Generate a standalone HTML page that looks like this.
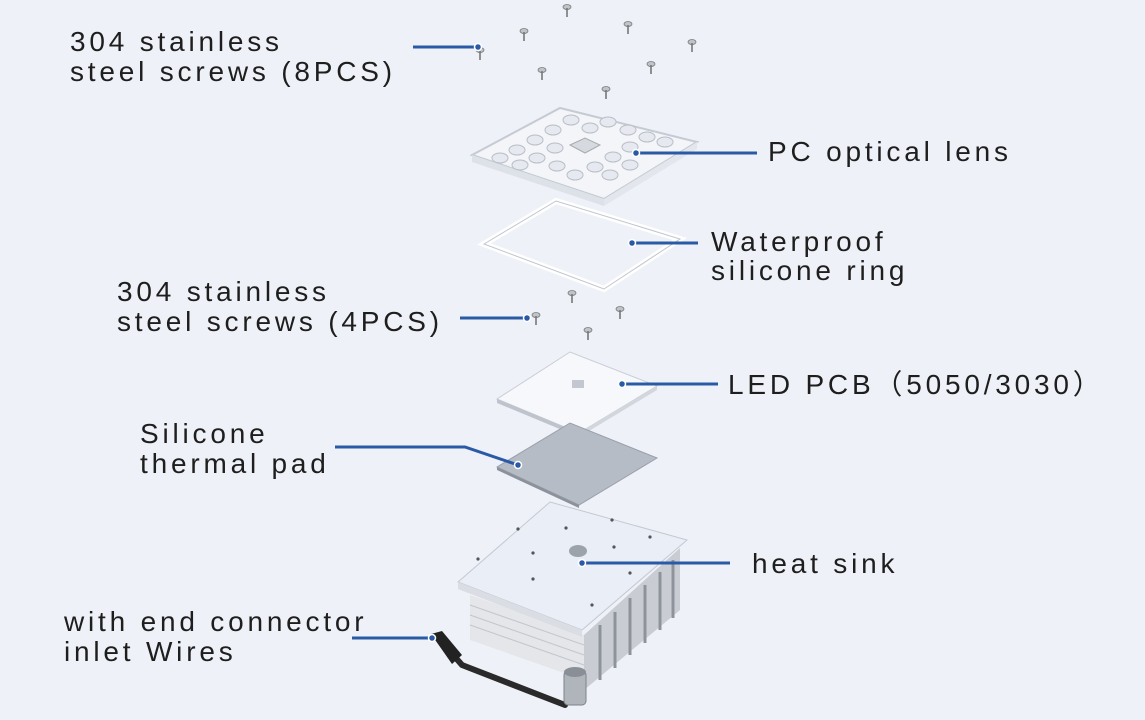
<!DOCTYPE html>
<html><head><style>
body{margin:0;background:#eef1f7;}
svg{display:block}
text{font-family:"Liberation Sans","Noto Sans CJK SC",sans-serif;font-size:28px;fill:#1e1e1e;letter-spacing:3.8px}
</style></head><body>
<svg width="1145" height="720" viewBox="0 0 1145 720">
<rect width="1145" height="720" fill="#eef1f7"/>
<defs>
<g id="scr"><ellipse cx="0" cy="0" rx="4" ry="2.5" fill="#bfc4cb" stroke="#777" stroke-width="0.8"/><line x1="0" y1="1" x2="0" y2="10" stroke="#777" stroke-width="1.6"/></g>
</defs>
<use href="#scr" x="567" y="7"/><use href="#scr" x="524" y="31"/><use href="#scr" x="628" y="24"/><use href="#scr" x="692" y="42"/><use href="#scr" x="480" y="50"/><use href="#scr" x="542" y="70"/><use href="#scr" x="651" y="64"/><use href="#scr" x="606" y="89"/>
<!-- lens -->
<polygon points="472,155 560,108 697,142 604,199" fill="#f3f5f9" stroke="#c5cad3" stroke-width="2"/>
<polygon points="472,155 604,199 604,206 472,162" fill="#dde1e8"/>
<polygon points="604,199 697,142 697,149 604,206" fill="#e3e6ec"/>
<g fill="#e6e9ef" stroke="#b9bec8" stroke-width="1">
<ellipse cx="517" cy="150" rx="8" ry="5"/><ellipse cx="535" cy="140" rx="8" ry="5"/><ellipse cx="553" cy="130" rx="8" ry="5"/><ellipse cx="571" cy="120" rx="8" ry="5"/>
<ellipse cx="537" cy="158" rx="8" ry="5"/><ellipse cx="555" cy="148" rx="8" ry="5"/><ellipse cx="590" cy="128" rx="8" ry="5"/><ellipse cx="608" cy="122" rx="8" ry="5"/>
<ellipse cx="557" cy="166" rx="8" ry="5"/><ellipse cx="575" cy="175" rx="8" ry="5"/><ellipse cx="595" cy="167" rx="8" ry="5"/><ellipse cx="613" cy="157" rx="8" ry="5"/>
<ellipse cx="630" cy="147" rx="8" ry="5"/><ellipse cx="628" cy="130" rx="8" ry="5"/><ellipse cx="647" cy="137" rx="8" ry="5"/><ellipse cx="665" cy="142" rx="8" ry="5"/>
<ellipse cx="610" cy="175" rx="8" ry="5"/><ellipse cx="630" cy="165" rx="8" ry="5"/><ellipse cx="520" cy="165" rx="8" ry="5"/><ellipse cx="500" cy="158" rx="8" ry="5"/>
</g>
<polygon points="570,145 585,138 600,145 585,153" fill="#d6d9e0" stroke="#aaa"/>
<!-- ring -->
<polygon points="484,244 556,201 680,239 604,289" fill="none" stroke="#fff" stroke-width="6"/>
<polygon points="484,244 556,201 680,239 604,289" fill="none" stroke="#c0c5cd" stroke-width="1"/>
<use href="#scr" x="572" y="293"/><use href="#scr" x="536" y="315"/><use href="#scr" x="620" y="309"/><use href="#scr" x="588" y="330"/>
<!-- pcb -->
<polygon points="497,399 570,352 657,386 579,433" fill="#f7f8fb" stroke="#c9ced6"/>
<polygon points="497,399 579,433 579,437 497,403" fill="#bfc4cc"/>
<polygon points="579,433 657,386 657,390 579,437" fill="#d2d6dd"/>
<rect x="572" y="380" width="12" height="8" fill="#c3c7cf"/>
<!-- thermal pad -->
<polygon points="497,467 570,423 657,458 579,505" fill="#b6bcc6" stroke="#9aa0aa"/>
<polygon points="497,467 579,505 579,508 497,470" fill="#8c929c"/>
<!-- heatsink -->
<polygon points="470,595 584,635 584,680 470,640" fill="#e4e6ea"/>
<g stroke="#c2c6cc" stroke-width="1">
<line x1="470" y1="605" x2="584" y2="645"/><line x1="470" y1="615" x2="584" y2="655"/><line x1="470" y1="625" x2="584" y2="665"/>
</g>
<polygon points="584,635 680,548 680,610 584,690" fill="#c9cdd3"/>
<g stroke="#8e939b" stroke-width="3">
<line x1="600" y1="625" x2="600" y2="680"/><line x1="615" y1="612" x2="615" y2="668"/><line x1="630" y1="598" x2="630" y2="655"/><line x1="645" y1="585" x2="645" y2="643"/><line x1="660" y1="572" x2="660" y2="630"/><line x1="673" y1="560" x2="673" y2="618"/>
</g>
<polygon points="458,582 550,502 687,540 582,630" fill="#e9eef7" stroke="#c4c9d1"/>
<polygon points="458,582 582,630 582,637 458,589" fill="#dadde3"/>
<ellipse cx="578" cy="551" rx="9" ry="6" fill="#9da3ab"/>
<g fill="#555">
<circle cx="518" cy="529" r="1.6"/><circle cx="566" cy="528" r="1.6"/><circle cx="612" cy="520" r="1.6"/><circle cx="533" cy="553" r="1.6"/><circle cx="614" cy="547" r="1.6"/><circle cx="533" cy="579" r="1.6"/><circle cx="630" cy="573" r="1.6"/><circle cx="592" cy="605" r="1.6"/><circle cx="478" cy="559" r="1.6"/><circle cx="650" cy="537" r="1.6"/>
</g>
<!-- cable -->
<path d="M440,640 L462,665 L565,705" fill="none" stroke="#2a2a2a" stroke-width="6" stroke-linecap="round"/>
<polygon points="431,634 442,631 462,655 452,664" fill="#222"/>
<rect x="564" y="671" width="22" height="34" rx="4" fill="#b0b5bc" stroke="#7d828a"/>
<ellipse cx="575" cy="672" rx="11" ry="5" fill="#8a8f97"/>
<!-- leader lines -->
<g stroke="#2a5aa6" stroke-width="3" fill="none">
<line x1="413" y1="47" x2="478" y2="47"/>
<line x1="636" y1="153" x2="757" y2="153"/>
<line x1="632" y1="243" x2="698" y2="243"/>
<line x1="460" y1="318" x2="527" y2="318"/>
<line x1="622" y1="384" x2="718" y2="384"/>
<polyline points="335,447 465,447 518,465"/>
<line x1="582" y1="563" x2="730" y2="563"/>
<line x1="352" y1="638" x2="432" y2="638"/>
</g>
<g fill="#2a5aa6" stroke="#fff" stroke-width="1.5">
<circle cx="478" cy="47" r="3.5"/><circle cx="636" cy="153" r="3.5"/><circle cx="632" cy="243" r="3.5"/><circle cx="527" cy="318" r="3.5"/><circle cx="622" cy="384" r="3.5"/><circle cx="518" cy="465" r="3.5"/><circle cx="582" cy="563" r="3.5"/><circle cx="432" cy="638" r="3.5"/>
</g>
<text x="70" y="51">304 stainless</text>
<text x="70" y="81">steel screws (8PCS)</text>
<text x="768" y="161">PC optical lens</text>
<text x="711" y="251">Waterproof</text>
<text x="711" y="280">silicone ring</text>
<text x="117" y="301">304 stainless</text>
<text x="117" y="331">steel screws (4PCS)</text>
<text x="728" y="394">LED PCB（5050/3030）</text>
<text x="140" y="443">Silicone</text>
<text x="140" y="473">thermal pad</text>
<text x="752" y="573">heat sink</text>
<text x="64" y="631">with end connector</text>
<text x="64" y="661">inlet Wires</text>
</svg>
</body></html>
